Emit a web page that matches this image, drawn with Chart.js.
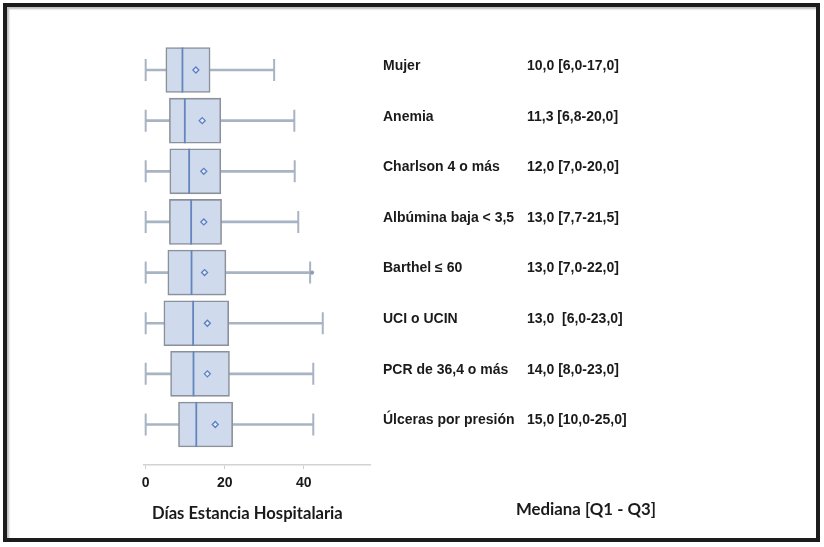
<!DOCTYPE html>
<html>
<head>
<meta charset="utf-8">
<script src="https://cdn.jsdelivr.net/npm/chart.js@4.4.1/dist/chart.umd.min.js"></script>
<style>
  html, body { margin: 0; padding: 0; background: #fff; }
  #wrap { position: relative; width: 824px; height: 547px; overflow: hidden; }
  #frame { position: absolute; left: 3px; top: 3px; width: 809px; height: 531px;
           border: 4px solid #1c1c1c; box-shadow: inset 2px 2px 2px #bdbdbd; pointer-events: none; }
  canvas { position: absolute; left: 0; top: 0; }
</style>
</head>
<body>
<div id="wrap">
  <canvas id="boxChart" width="824" height="547"></canvas>
  <div id="frame"></div>
</div>
<script>
// Categorías y valores (días de estancia)
const categories = ['Mujer', 'Anemia', 'Charlson 4 o más', 'Albúmina baja < 3,5',
    'Barthel ≤ 60', 'UCI o UCIN', 'PCR de 36,4 o más', 'Úlceras por presión'];
const medianLabels = ['10,0 [6,0-17,0]', '11,3 [6,8-20,0]', '12,0 [7,0-20,0]', '13,0 [7,7-21,5]',
    '13,0 [7,0-22,0]', '13,0  [6,0-23,0]', '14,0 [8,0-23,0]', '15,0 [10,0-25,0]'];
const whiskerMin = [0, 0, 0, 0, 0, 0, 0, 0];
const q1 = [5.1, 6.0, 6.1, 6.0, 5.6, 4.6, 6.3, 8.3];
const median = [9.3, 9.9, 11.0, 11.5, 11.6, 12.0, 12.1, 12.8];
const q3 = [16.3, 19.0, 19.0, 19.2, 20.3, 21.0, 21.2, 22.0];
const mean = [12.7, 14.3, 14.7, 14.7, 14.9, 15.6, 15.6, 17.6];
const whiskerMax = [32.5, 37.6, 37.7, 38.6, 41.6, 44.8, 42.4, 42.4];
const outliers = [{ row: 4, value: 42.1 }];
const xTicks = [0, 20, 40];
const xTitle = 'Días Estancia Hospitalaria';
const rightTitle = 'Mediana [Q1 - Q3]';

const rows = categories.map((c, i) => i);

const textPlugin = {
    id: 'sideText',
    afterDraw(chart) {
        const ctx = chart.ctx;
        const y = chart.scales.y;
        ctx.save();
        ctx.fillStyle = '#1a1a1a';
        ctx.textBaseline = 'middle';
        ctx.textAlign = 'left';
        ctx.font = 'bold 14px "Liberation Sans", Arial, sans-serif';
        rows.forEach(i => {
            const py = y.getPixelForValue(i) - 4;
            ctx.fillText(categories[i], 383, py);
            ctx.fillText(medianLabels[i], 527, py);
        });
        ctx.font = 'bold 16.6px Lato, "Open Sans", sans-serif';
        ctx.fillText(xTitle, 152, 514);
        ctx.font = 'bold 16.8px Lato, "Open Sans", sans-serif';
        ctx.fillText(rightTitle, 516, 510);
        ctx.restore();
    }
};

const ctx = document.getElementById('boxChart').getContext('2d');
new Chart(ctx, {
    type: 'bar',
    data: {
        datasets: [
            {
                type: 'scatter',
                order: 0,
                data: rows.map(i => ({ x: mean[i], y: i })),
                pointStyle: 'rectRot',
                radius: 3,
                borderWidth: 1.3,
                borderColor: '#5a7fc2',
                backgroundColor: '#e3eaf5'
            },
            {
                type: 'scatter',
                order: 0.5,
                data: outliers.map(o => ({ x: o.value, y: o.row })),
                pointStyle: 'circle',
                radius: 1.6,
                borderWidth: 1,
                borderColor: '#8f9aab',
                backgroundColor: '#8f9aab'
            },
            {
                type: 'scatter',
                order: 1,
                data: rows.map(i => ({ x: median[i], y: i })),
                pointStyle: 'line',
                rotation: 90,
                radius: 22.5,
                borderWidth: 1.8,
                borderColor: '#6585bd'
            },
            {
                type: 'bar',
                order: 2,
                indexAxis: 'y',
                grouped: false,
                data: rows.map(i => ({ y: i, x: [q1[i], q3[i]] })),
                barThickness: 45,
                backgroundColor: '#cfdaec',
                borderColor: '#8b919b',
                borderWidth: 1.6,
                borderSkipped: false
            },
            {
                type: 'scatter',
                order: 3,
                data: rows.flatMap(i => [{ x: whiskerMin[i], y: i }, { x: whiskerMax[i], y: i }]),
                pointStyle: 'line',
                rotation: 90,
                radius: 11,
                borderWidth: 2,
                borderColor: '#a8b3c3'
            },
            {
                type: 'bar',
                order: 4,
                indexAxis: 'y',
                grouped: false,
                data: rows.map(i => ({ y: i, x: [whiskerMin[i], whiskerMax[i]] })),
                barThickness: 2,
                backgroundColor: '#a8b3c3',
                borderWidth: 0
            }
        ]
    },
    options: {
        responsive: false,
        animation: false,
        events: [],
        layout: { padding: { left: 143.7, right: 453, top: 44.7, bottom: 52 } },
        plugins: { legend: { display: false }, tooltip: { enabled: false } },
        scales: {
            x: {
                type: 'linear',
                position: 'bottom',
                offset: false,
                min: -0.5,
                max: 57,
                afterBuildTicks: s => { s.ticks = xTicks.map(v => ({ value: v })); },
                afterFit: s => { s.height = 30; },
                grid: { offset: false, drawOnChartArea: false, drawTicks: true, tickLength: 4, color: '#cfcfcf' },
                border: { color: '#d2d2d2', width: 1.5 },
                ticks: {
                    padding: 6,
                    color: '#1a1a1a',
                    font: { family: '"Liberation Sans", Arial, sans-serif', size: 14, weight: 'bold' }
                }
            },
            y: {
                type: 'linear',
                display: false,
                offset: false,
                reverse: true,
                min: -0.5,
                max: 7.8
            }
        }
    },
    plugins: [textPlugin]
});
</script>
</body>
</html>
